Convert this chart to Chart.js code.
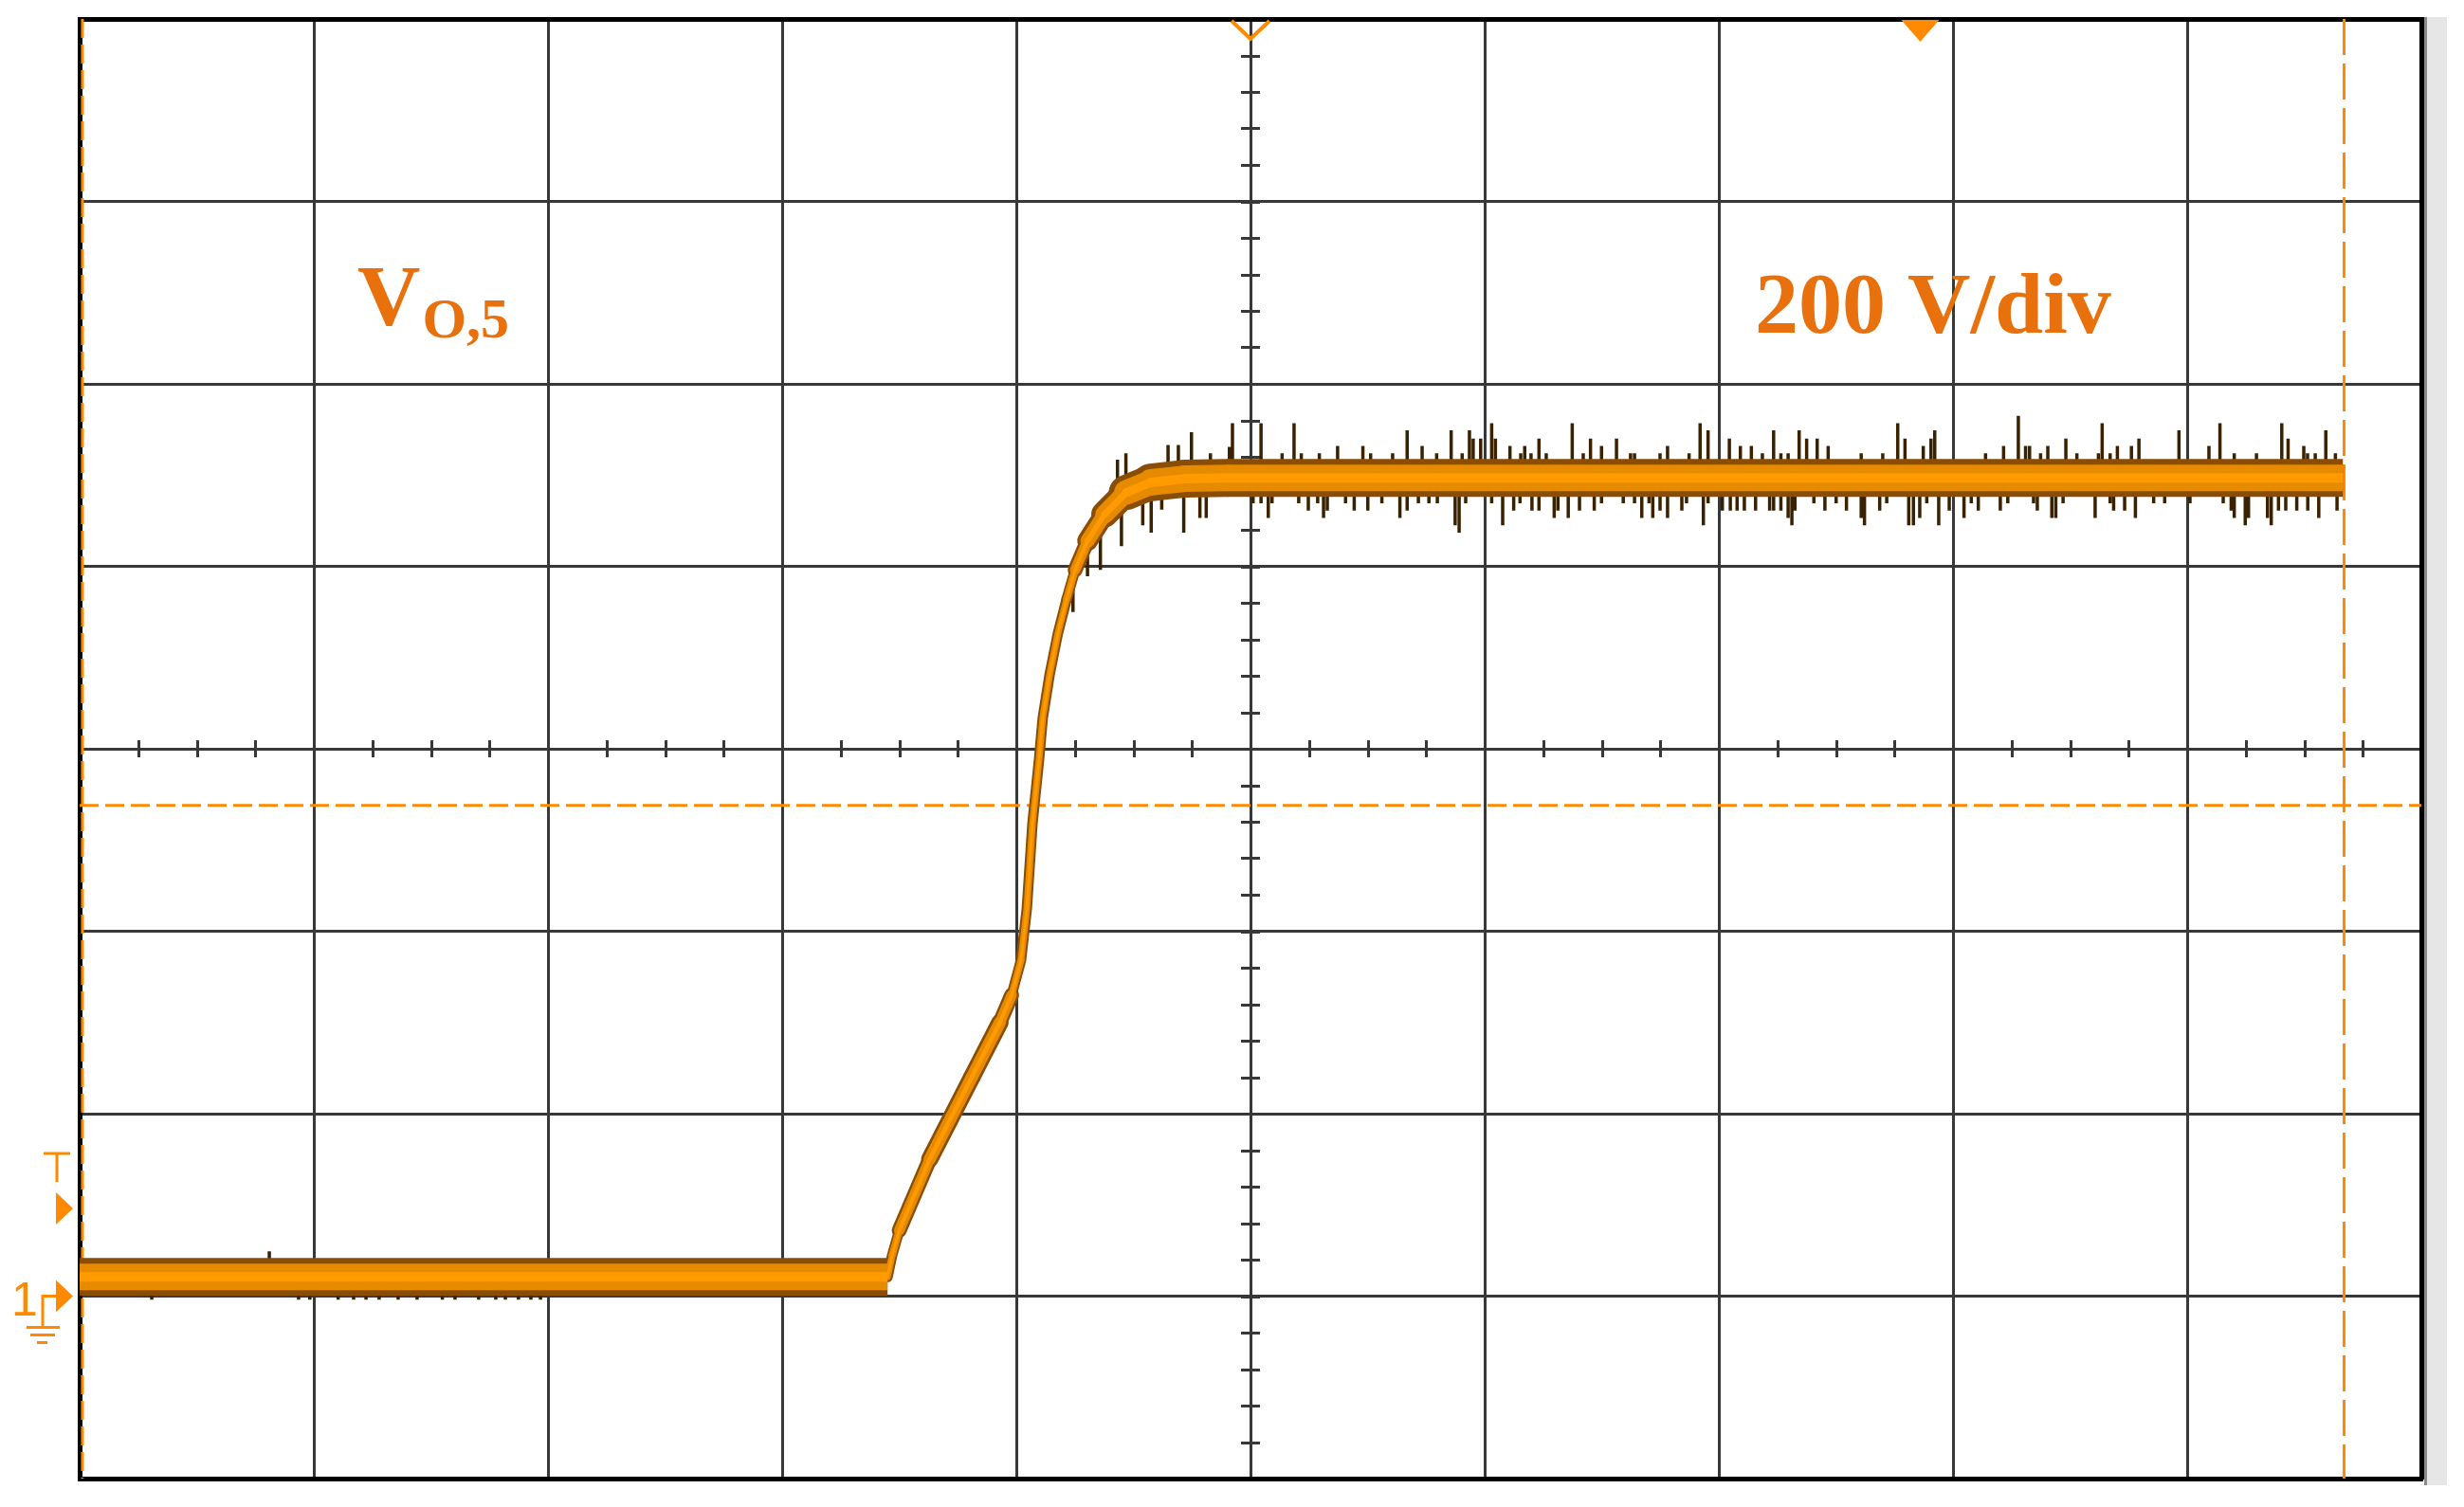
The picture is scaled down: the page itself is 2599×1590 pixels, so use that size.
<!DOCTYPE html>
<html>
<head>
<meta charset="utf-8">
<script src="https://cdn.jsdelivr.net/npm/chart.js@4.4.1/dist/chart.umd.min.js"></script>
<style>
html,body{margin:0;padding:0;background:#ffffff;overflow:hidden}
#wrap{width:2599px;height:1590px;position:relative}
</style>
</head>
<body>
<div id="wrap"><canvas id="c" width="2599" height="1590"></canvas></div>
<script>
// ---- axes: time in divisions (0..10), voltage in V (200 V/div, ground = 0 V) ----
const xMin = 0, xMax = 10, xMajor = 1, xMinor = 0.25;
const yMin = -200, yMax = 1400, yMajor = 200, yMinor = 40;
const centerX = 5, centerV = 600;

// ---- main trace V_O,5 ----
const traceX = [0, 3.45, 3.47, 3.50, 3.63, 3.81, 3.93, 3.98, 4.02, 4.045, 4.069, 4.097, 4.113, 4.142, 4.178, 4.215, 4.251, 4.304, 4.377, 4.47, 4.575, 4.72, 4.90, 9.665];
const traceV = [21, 21, 45, 72, 150, 240, 300, 330, 368, 425, 518, 588, 634, 681, 727, 764, 796, 828, 857, 881, 892, 896, 897, 897];

// ---- noise spikes (tip voltage) ----
const spikeUpX = [
  4.432, 4.468, 4.648, 4.692, 4.748, 4.829, 4.910, 4.923, 5.045, 5.135,
  5.186, 5.217, 5.294, 5.372, 5.480, 5.513, 5.607, 5.669, 5.733, 5.795,
  5.857, 5.904, 5.935, 5.951, 5.983, 6.030, 6.046, 6.108, 6.154, 6.171,
  6.198, 6.232, 6.263, 6.374, 6.421, 6.452, 6.499, 6.563, 6.623, 6.640,
  6.749, 6.781, 6.873, 6.920, 6.954, 7.045, 7.092, 7.139, 7.186, 7.234,
  7.265, 7.296, 7.343, 7.375, 7.420, 7.467, 7.608, 7.700, 7.764, 7.795,
  7.873, 7.906, 7.922, 8.139, 8.216, 8.279, 8.310, 8.327, 8.374, 8.405,
  8.482, 8.529, 8.621, 8.637, 8.671, 8.702, 8.762, 8.794, 8.965, 9.093,
  9.140, 9.201, 9.296, 9.404, 9.431, 9.498, 9.514, 9.547, 9.592, 9.633, 0.810];
const spikeUpV = [
  917, 924, 933, 933, 947, 924, 931, 957, 957, 924,
  957, 924, 924, 932, 932, 924, 924, 949, 932, 924,
  949, 924, 949, 940, 940, 957, 940, 932, 924, 932,
  924, 940, 924, 957, 924, 940, 932, 940, 924, 924,
  924, 932, 924, 957, 949, 940, 932, 932, 924, 949,
  924, 924, 949, 940, 940, 932, 924, 924, 957, 940,
  932, 940, 949, 924, 932, 965, 932, 932, 924, 932,
  940, 924, 924, 957, 924, 932, 932, 940, 949, 932,
  957, 924, 924, 957, 940, 932, 924, 924, 949, 924, 49];
const spikeDnX = [
  4.242, 4.304, 4.359, 4.449, 4.540, 4.576, 4.621, 4.715, 4.784, 4.811,
  5.011, 5.045, 5.076, 5.092, 5.206, 5.247, 5.287, 5.312, 5.328, 5.406,
  5.443, 5.501, 5.561, 5.638, 5.669, 5.717, 5.762, 5.798, 5.874, 5.891,
  5.919, 6.030, 6.077, 6.124, 6.151, 6.202, 6.232, 6.297, 6.313, 6.357,
  6.405, 6.468, 6.499, 6.592, 6.640, 6.671, 6.702, 6.718, 6.749, 6.781,
  6.842, 6.862, 6.934, 6.954, 7.015, 7.049, 7.078, 7.109, 7.157, 7.217,
  7.234, 7.265, 7.296, 7.312, 7.325, 7.406, 7.453, 7.501, 7.545, 7.608,
  7.622, 7.687, 7.717, 7.811, 7.831, 7.858, 7.888, 7.939, 7.984, 8.047,
  8.078, 8.108, 8.202, 8.234, 8.344, 8.360, 8.422, 8.439, 8.470, 8.607,
  8.671, 8.686, 8.733, 8.779, 8.857, 8.904, 9.012, 9.154, 9.188, 9.201,
  9.248, 9.262, 9.343, 9.359, 9.390, 9.421, 9.468, 9.515, 9.562, 9.640,
  0.308, 0.935, 0.983, 1.104, 1.170, 1.223, 1.279, 1.360, 1.441, 1.549,
  1.603, 1.704, 1.777, 1.818, 1.874, 1.927, 1.968];
const spikeDnV = [
  750, 789, 796, 822, 845, 837, 862, 837, 853, 853,
  869, 869, 853, 869, 869, 861, 869, 853, 861, 869,
  861, 861, 869, 853, 861, 869, 869, 869, 845, 837,
  869, 869, 845, 861, 869, 861, 861, 853, 861, 853,
  861, 861, 869, 869, 869, 853, 869, 853, 861, 853,
  861, 869, 845, 869, 861, 861, 861, 861, 861, 861,
  861, 861, 853, 845, 861, 869, 861, 869, 861, 853,
  845, 861, 869, 845, 845, 853, 869, 845, 861, 853,
  869, 861, 861, 869, 869, 861, 853, 853, 869, 853,
  869, 861, 861, 853, 869, 869, 869, 869, 861, 853,
  845, 853, 853, 845, 861, 861, 861, 861, 853, 861,
  -4, -4, -4, -4, -4, -4, -4, -4, -4, -4,
  -4, -4, -4, -4, -4, -4, -4];

// ---- cursors / markers / labels (values in axis units) ----
const vCursorX = [0.012, 9.67];
const hCursorV = [538];
const triggerLevelV = 96;
const groundV = 0;
const trigPosX = 5;
const delayMarkX = 7.86;
const labelSignal = {main: 'V', sub: 'O,5', x: 1.186, v: 1064};
const labelScale = {text: '200 V/div', x: 7.154, v: 1056};

const GRID = '#383838';
const ORANGE = '#ff8a00';
const TEXT_OR = '#e8710e';

function traceAt(x) {
  for (let i = 1; i < traceX.length; i++) {
    if (x <= traceX[i]) {
      const t = (x - traceX[i-1]) / (traceX[i] - traceX[i-1]);
      return traceV[i-1] + t * (traceV[i] - traceV[i-1]);
    }
  }
  return traceV[traceV.length - 1];
}

const tracePts = traceX.map((x, i) => ({x, y: traceV[i]}));
const spikePts = [];
function addSpikes(xs, vs) {
  xs.forEach((x, i) => {
    spikePts.push({x, y: traceAt(x)}, {x, y: vs[i]}, {x, y: null});
  });
}
addSpikes(spikeUpX, spikeUpV);
addSpikes(spikeDnX, spikeDnV);

function bandWidth(T, minW) {
  return c => {
    const dx = Math.abs(c.p1.x - c.p0.x), dy = Math.abs(c.p1.y - c.p0.y);
    const h = Math.hypot(dx, dy) || 1;
    return Math.max(minW, T * dx / h);
  };
}
const capStyle = c => (Math.abs(c.p1.y - c.p0.y) < 0.6 ? 'butt' : 'round');

function bandDataset(color, T, minW, order) {
  return {
    data: tracePts, borderColor: color, borderWidth: T, pointRadius: 0,
    borderCapStyle: 'butt', borderJoinStyle: 'round', tension: 0, order,
    segment: {borderWidth: bandWidth(T, minW), borderCapStyle: capStyle}
  };
}

const scopePlugin = {
  id: 'scope',
  beforeDatasetsDraw(chart) {
    const {ctx, chartArea: a, scales: {x, y}} = chart;
    ctx.save();
    // minor ticks on the centre axes
    ctx.strokeStyle = GRID; ctx.lineWidth = 3; ctx.lineCap = 'butt';
    const cy = y.getPixelForValue(centerV), cx = x.getPixelForValue(centerX);
    ctx.beginPath();
    const nx = Math.round((xMax - xMin) / xMinor);
    for (let i = 1; i < nx; i++) {
      const px = Math.round(x.getPixelForValue(xMin + i * xMinor)) + 0.5;
      ctx.moveTo(px, cy - 9); ctx.lineTo(px, cy + 9);
    }
    const ny = Math.round((yMax - yMin) / yMinor);
    for (let i = 1; i < ny; i++) {
      const py = Math.round(y.getPixelForValue(yMin + i * yMinor)) + 0.5;
      ctx.moveTo(cx - 10, py); ctx.lineTo(cx + 10, py);
    }
    ctx.stroke();
    // cursors
    ctx.strokeStyle = ORANGE; ctx.lineWidth = 3;
    hCursorV.forEach(v => {
      const py = y.getPixelForValue(v);
      ctx.setLineDash([20, 7]);
      ctx.beginPath(); ctx.moveTo(a.left, py); ctx.lineTo(a.right, py); ctx.stroke();
    });
    vCursorX.forEach((v, i) => {
      const px = x.getPixelForValue(v);
      ctx.setLineDash(i === 0 ? [20, 7] : [38, 9]);
      ctx.beginPath(); ctx.moveTo(px, a.top); ctx.lineTo(px, a.bottom); ctx.stroke();
    });
    ctx.restore();
  },
  afterDatasetsDraw(chart) {
    const {ctx, chartArea: a, scales: {x, y}} = chart;
    ctx.save();
    // labels
    ctx.fillStyle = TEXT_OR;
    ctx.textBaseline = 'alphabetic';
    ctx.font = 'bold 92px "Liberation Serif", "Times New Roman", serif';
    let px = x.getPixelForValue(labelSignal.x), py = y.getPixelForValue(labelSignal.v);
    ctx.fillText(labelSignal.main, px, py);
    const w = ctx.measureText(labelSignal.main).width;
    ctx.font = 'bold 60px "Liberation Serif", "Times New Roman", serif';
    ctx.fillText(labelSignal.sub, px + w + 2, py + 13);
    ctx.font = 'bold 92px "Liberation Serif", "Times New Roman", serif';
    ctx.fillText(labelScale.text, x.getPixelForValue(labelScale.x), y.getPixelForValue(labelScale.v));
    // top markers
    ctx.strokeStyle = ORANGE; ctx.fillStyle = ORANGE; ctx.lineWidth = 4; ctx.lineJoin = 'miter';
    const tx = x.getPixelForValue(trigPosX);
    ctx.beginPath();
    ctx.moveTo(tx - 20, a.top + 2); ctx.lineTo(tx, a.top + 21); ctx.lineTo(tx + 20, a.top + 2);
    ctx.stroke();
    const dx = x.getPixelForValue(delayMarkX);
    ctx.beginPath();
    ctx.moveTo(dx - 20, a.top + 1); ctx.lineTo(dx + 20, a.top + 1); ctx.lineTo(dx, a.top + 24); ctx.closePath();
    ctx.fill();
    ctx.restore();
  },
  afterDraw(chart) {
    const {ctx, chartArea: a, scales: {y}} = chart;
    ctx.save();
    // side strip
    ctx.fillStyle = '#e6e6e6';
    ctx.fillRect(a.right + 3, a.top - 2, 24, a.bottom - a.top + 9);
    ctx.fillStyle = '#8a8a8a';
    ctx.fillRect(a.right + 3, a.top - 2, 3, a.bottom - a.top + 9);
    // left markers
    const L = a.left;
    const yt = y.getPixelForValue(triggerLevelV);
    const yg = y.getPixelForValue(groundV);
    ctx.fillStyle = ORANGE; ctx.strokeStyle = ORANGE; ctx.lineWidth = 3;
    ctx.beginPath();
    ctx.moveTo(L - 25, yt - 17); ctx.lineTo(L - 7, yt); ctx.lineTo(L - 25, yt + 17); ctx.closePath(); ctx.fill();
    ctx.beginPath();
    ctx.moveTo(L - 38, yt - 58); ctx.lineTo(L - 10, yt - 58);
    ctx.moveTo(L - 24, yt - 58); ctx.lineTo(L - 24, yt - 28);
    ctx.stroke();
    ctx.beginPath();
    ctx.moveTo(L - 25, yg - 17); ctx.lineTo(L - 7, yg); ctx.lineTo(L - 25, yg + 17); ctx.closePath(); ctx.fill();
    ctx.beginPath();
    ctx.moveTo(L - 25, yg); ctx.lineTo(L - 39, yg); ctx.lineTo(L - 39, yg + 33);
    ctx.moveTo(L - 56, yg + 33); ctx.lineTo(L - 21, yg + 33);
    ctx.moveTo(L - 52, yg + 41); ctx.lineTo(L - 26, yg + 41);
    ctx.moveTo(L - 45, yg + 49); ctx.lineTo(L - 34, yg + 49);
    ctx.stroke();
    ctx.font = '50px "Liberation Sans Narrow", "Liberation Sans", sans-serif';
    ctx.textAlign = 'center'; ctx.textBaseline = 'alphabetic';
    ctx.fillText('1', L - 58, yg + 20);
    ctx.restore();
  }
};

new Chart(document.getElementById('c'), {
  type: 'line',
  data: {
    datasets: [
      bandDataset('#ff9a00', 10, 3, 1),
      bandDataset('#e68a00', 28, 7, 2),
      bandDataset('#8a4d06', 40, 11, 3),
      {data: spikePts, borderColor: '#3a2200', borderWidth: 3.5, pointRadius: 0,
       borderCapStyle: 'butt', spanGaps: false, order: 4}
    ]
  },
  options: {
    responsive: false,
    animation: false,
    devicePixelRatio: 1,
    layout: {padding: {left: 84, top: 20, right: 45, bottom: 30}},
    plugins: {legend: {display: false}, tooltip: {enabled: false}},
    scales: {
      x: {type: 'linear', min: xMin, max: xMax, position: 'bottom',
          ticks: {display: false, stepSize: xMajor},
          grid: {color: GRID, lineWidth: 3, drawTicks: false},
          border: {display: true, color: '#000', width: 5}},
      y: {type: 'linear', min: yMin, max: yMax, position: 'left',
          ticks: {display: false, stepSize: yMajor},
          grid: {color: GRID, lineWidth: 3, drawTicks: false},
          border: {display: true, color: '#000', width: 5}},
      xTop: {type: 'linear', min: xMin, max: xMax, position: 'top',
          ticks: {display: false}, grid: {display: false, drawTicks: false},
          border: {display: true, color: '#000', width: 5}},
      yRight: {type: 'linear', min: yMin, max: yMax, position: 'right',
          ticks: {display: false}, grid: {display: false, drawTicks: false},
          border: {display: true, color: '#000', width: 5}}
    }
  },
  plugins: [scopePlugin]
});
</script>
</body>
</html>
